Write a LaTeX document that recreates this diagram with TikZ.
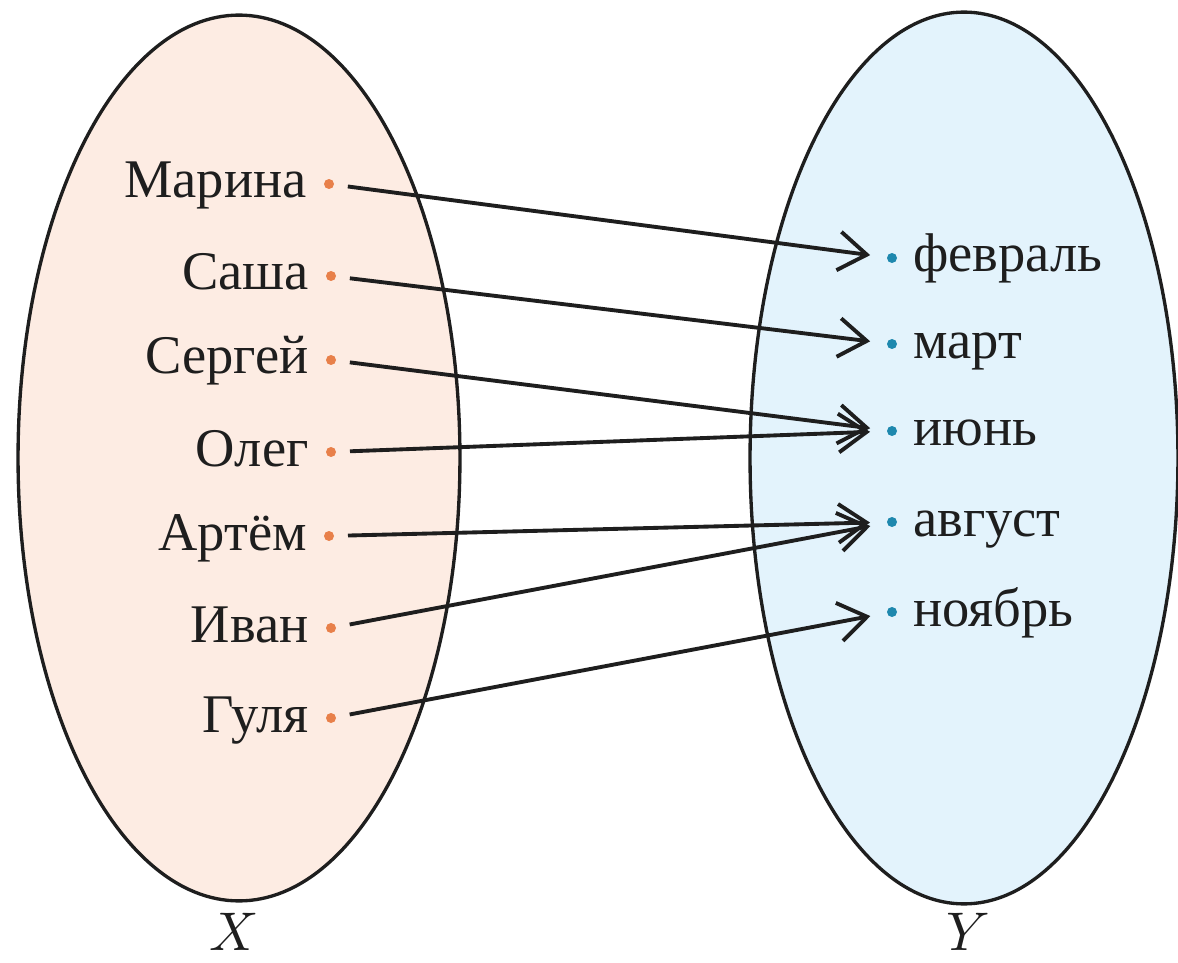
\documentclass[tikz,border=0pt]{standalone}
\usepackage{fontspec}
\setmainfont{Liberation Serif}
\usetikzlibrary{arrows.meta}
\definecolor{lfill}{HTML}{FDECE3}
\definecolor{rfill}{HTML}{E3F3FC}
\definecolor{ldotc}{HTML}{E8804A}
\definecolor{rdotc}{HTML}{1E88AE}
\definecolor{ink}{HTML}{1E1E1E}
\begin{document}
\begin{tikzpicture}[x=0.02cm,y=-0.02cm,
  setshape/.style={draw=ink,line width=1.9pt},
  ldot/.style={circle,fill=ldotc,inner sep=0pt,minimum size=0.2cm,outer sep=0pt},
  rdot/.style={circle,fill=rdotc,inner sep=0pt,minimum size=0.2cm,outer sep=0pt},
  lbl/.style={inner sep=0pt,font=\fontsize{31}{36}\selectfont,text=ink},
  arr/.style={draw=ink,line width=2.2pt,
    -{Straight Barb[length=16pt,width=22pt,line width=2.2pt]},
    shorten <=0.28cm, shorten >=0.34cm},
  setname/.style={inner sep=0pt,scale=3.1,text=ink}]
\useasboundingbox[fill=white] (0,0) rectangle (1178,963);
% sets
\fill[lfill] (239,458) ellipse [x radius=4.42cm, y radius=8.86cm];
\fill[rfill] (964,458) ellipse [x radius=4.28cm, y radius=8.92cm];
\draw[setshape] (239,458) ellipse [x radius=4.42cm, y radius=8.86cm];
\draw[setshape] (964,458) ellipse [x radius=4.28cm, y radius=8.92cm];
% left elements
\node[ldot] (mar) at (329,184) {};
\node[ldot] (sas) at (331,276) {};
\node[ldot] (ser) at (331,360) {};
\node[ldot] (ole) at (331,452) {};
\node[ldot] (art) at (329,536) {};
\node[ldot] (iva) at (331,628) {};
\node[ldot] (gul) at (331,718) {};
\node[lbl,anchor=base east] (tmar) at (307,198) {Марина};
\node[lbl,anchor=base east] (tsas) at (309,290) {Саша};
\node[lbl,anchor=base east] (tser) at (309,374) {Сергей};
\node[lbl,anchor=base east] (tole) at (309,466) {Олег};
\node[lbl,anchor=base east] (tart) at (307,550) {Артём};
\node[lbl,anchor=base east] (tiva) at (309,642) {Иван};
\node[lbl,anchor=base east] (tgul) at (309,732) {Гуля};
% right elements
\node[rdot] (fev) at (892,258) {};
\node[rdot] (mrt) at (892,344) {};
\node[rdot] (iun) at (892,431) {};
\node[rdot] (avg) at (892,522) {};
\node[rdot] (noy) at (892,612) {};
\node[lbl,anchor=base west] (tfev) at (913,272) {февраль};
\node[lbl,anchor=base west] (tmrt) at (913,358) {март};
\node[lbl,anchor=base west] (tiun) at (913,445) {июнь};
\node[lbl,anchor=base west] (tavg) at (913,536) {август};
\node[lbl,anchor=base west] (tnoy) at (913,626) {ноябрь};
% mapping
\draw[arr] (mar) -- (fev);
\draw[arr] (sas) -- (mrt);
\draw[arr] (ser) -- (iun);
\draw[arr] (ole) -- (iun);
\draw[arr] (art) -- (avg);
\draw[arr] (iva) -- (avg);
\draw[arr] (gul) -- (noy);
% set names
\node[setname] (X) at (234,932) {$X$};
\node[setname] (Y) at (968,932) {$Y$};
\end{tikzpicture}
\end{document}
